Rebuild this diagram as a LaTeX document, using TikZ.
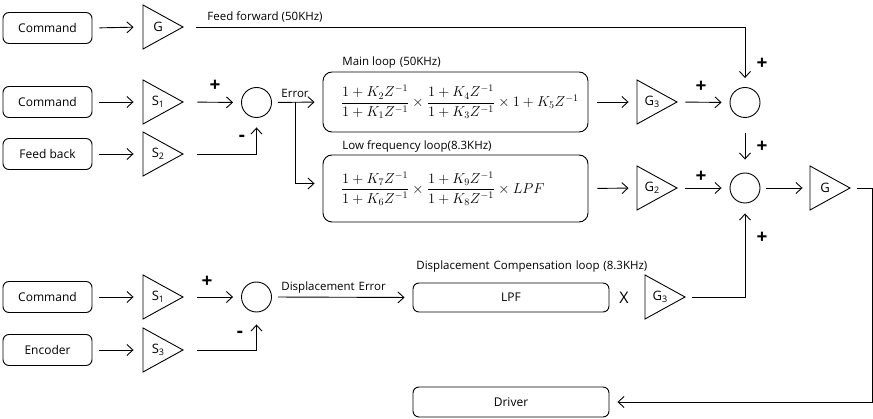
\documentclass[tikz,border=0pt]{standalone}
\usepackage{amsmath}
\usepackage{fontspec}
\setmainfont{Open Sans}
\usetikzlibrary{arrows.meta}
\newcommand\amplab[2]{#1\raisebox{-1.5pt}{\fontsize{9}{9}\selectfont #2}}
\newcommand\ampl[4]{%
  \draw ({#2-20},{#3-22}) -- ({#2-20},{#3+22}) -- ({#2+20},#3) -- cycle;
  \node[ampn] (#1) at (#2,#3) {};
  \node[font=\fontsize{13}{14}\selectfont, inner sep=0pt] at ({#2-5},#3) {#4};}
\begin{document}
\begin{tikzpicture}[x=1pt,y=-1pt, line width=0.9pt,
  box/.style={draw, rounded corners=6pt, minimum width=89pt, minimum height=31pt, inner sep=0pt, font=\fontsize{12}{14}\selectfont},
  lbox/.style={draw, rounded corners=9pt, inner xsep=8pt, inner ysep=0pt, text width=249pt, align=left, minimum width=265pt, font=\fontsize{14.5}{16}\selectfont},
  sumc/.style={draw, circle, minimum size=30pt, inner sep=0pt},
  ampn/.style={minimum width=40pt, minimum height=44pt, inner sep=0pt},
  arr/.style={-{Straight Barb[length=6pt,width=11pt]}},
  lbl/.style={font=\fontsize{11.5}{13}\selectfont, inner sep=0pt, anchor=west},
  sgn/.style={font=\fontsize{19}{19}\selectfont\bfseries, inner sep=0pt}
]
\useasboundingbox (0,0) rectangle (873,419);

% left input boxes
\node[box] (c1) at (47.5,28) {Command};
\node[box] (c2) at (47.5,102) {Command};
\node[box] (fb) at (47.5,154) {Feed back};
\node[box] (c3) at (47.5,297) {Command};
\node[box] (enc) at (47.5,350) {Encoder};

% amplifiers
\ampl{g0}{163}{27}{G}
\ampl{s1a}{163}{102}{\amplab{S}{1}}
\ampl{s2a}{163}{154}{\amplab{S}{2}}
\ampl{s1b}{163}{297}{\amplab{S}{1}}
\ampl{s3b}{163}{350}{\amplab{S}{3}}
\ampl{g3a}{657}{102}{\amplab{G}{3}}
\ampl{g2a}{657}{188}{\amplab{G}{2}}
\ampl{gf}{830}{188}{G}
\ampl{g3b}{665}{297}{\amplab{G}{3}}

% summing junctions
\node[sumc] (s1) at (256.5,102.5) {};
\node[sumc] (s2) at (256.5,297) {};
\node[sumc] (sA) at (745,102.5) {};
\node[sumc] (sB) at (745,188) {};

% loop boxes
\node[lbox, minimum height=60pt] (ml) at (455.5,102) {\hspace*{10pt}$\dfrac{1+K_2Z^{-1}}{1+K_1Z^{-1}}\times\dfrac{1+K_4Z^{-1}}{1+K_3Z^{-1}}\times 1+K_5Z^{-1}$};
\node[lbox, minimum height=67pt] (lf) at (455.5,188.5) {\hspace*{10pt}$\dfrac{1+K_7Z^{-1}}{1+K_6Z^{-1}}\times\dfrac{1+K_9Z^{-1}}{1+K_8Z^{-1}}\times LPF$};
\node[box, minimum width=196pt, minimum height=29pt] (lpf) at (511,297.5) {LPF};
\node[box, minimum width=196pt, minimum height=30pt] (drv) at (511,402) {Driver};

% labels
\node[lbl] at (207,17) {Feed forward (50KHz)};
\node[lbl] at (342,63) {Main loop\,\,(50KHz)};
\node[lbl] at (342,146) {Low frequency loop(8.3KHz)};
\node[lbl] at (416,267) {Displacement\,\,Compensation\,\,loop\,\,(8.3KHz)};
\node[lbl] at (281,93) {Error};
\node[lbl] at (281,288) {Displacement\,\,Error};
\node[font=\fontsize{16}{16}\selectfont, inner sep=0pt] at (624,298) {X};

% signs
\node[sgn] at (215,86) {+};
\node[sgn] at (242,138) {-};
\node[sgn] at (207,282) {+};
\node[sgn] at (240,334) {-};
\node[sgn] at (701,87) {+};
\node[sgn] at (762,64) {+};
\node[sgn] at (762,147) {+};
\node[sgn] at (701,177) {+};
\node[sgn] at (762,238) {+};

% connectors: inputs to amplifiers
\foreach \a/\b in {c1/g0, c2/s1a, fb/s2a, c3/s1b, enc/s3b}
  \draw[arr, shorten <=7pt, shorten >=9pt] (\a.east) -- (\b.west);

% upper error loop
\draw[arr, shorten <=14pt, shorten >=8pt] (s1a.east) -- (s1.west);
\draw[arr, shorten <=14pt, shorten >=9.5pt] (s2a.east) -| (s1.south);
\draw[arr, shorten <=6pt, shorten >=8pt] (s1.east) -- (ml.west);
\coordinate (br) at (295,102.5);
\draw[arr, shorten >=8pt] (br) |- ([yshift=5pt]lf.west);

% feed forward
\draw[arr, shorten <=13pt, shorten >=9pt] (g0.east) -| (sA.north);

% main / low frequency outputs
\draw[arr, shorten <=9pt, shorten >=8pt] (ml.east) -- (g3a.west);
\draw[arr, shorten <=8pt, shorten >=8pt] (g3a.east) -- (sA.west);
\draw[arr, shorten <=9pt, shorten >=8pt] (lf.east) -- (g2a.west);
\draw[arr, shorten <=8pt, shorten >=8pt] (g2a.east) -- (sB.west);
\draw[arr, shorten <=15pt, shorten >=13pt] (sA.south) -- (sB.north);
\draw[arr, shorten <=6pt, shorten >=7pt] (sB.east) -- (gf.west);

% output to driver
\coordinate (rt) at (872,188);
\draw[arr, shorten <=7pt, shorten >=8pt] (gf.east) -- (rt) |- (drv.east);

% displacement loop
\draw[arr, shorten <=14pt, shorten >=8pt] (s1b.east) -- (s2.west);
\draw[arr, shorten <=14pt, shorten >=12pt] (s3b.east) -| (s2.south);
\draw[arr, shorten <=6pt, shorten >=8pt] (s2.east) -- (lpf.west);
\draw[arr, shorten <=7pt, shorten >=10pt] (g3b.east) -| (sB.south);
\end{tikzpicture}
\end{document}
